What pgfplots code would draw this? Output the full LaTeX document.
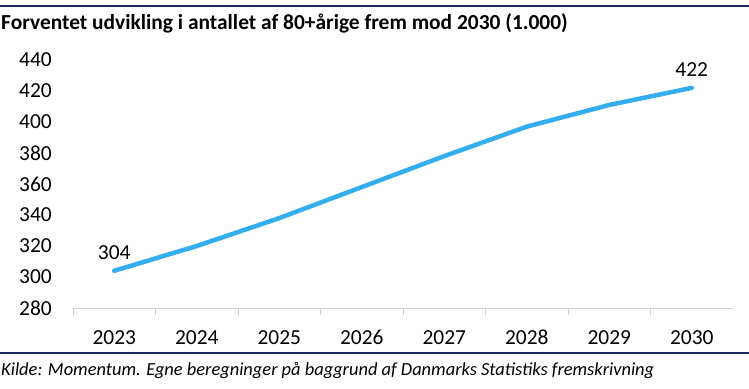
\documentclass[border=0pt]{standalone}
\usepackage{fontspec}
\setmainfont{Carlito}
\usepackage{pgfplots}
\pgfplotsset{compat=1.18}
\definecolor{navy}{HTML}{1F2A5C}
\definecolor{lblue}{HTML}{35AEEF}
\definecolor{axgray}{HTML}{D0D0D0}
\begin{document}
\begin{tikzpicture}[x=1bp,y=1bp]
\useasboundingbox (0,0) rectangle (749,388);
\fill[white] (0,0) rectangle (749,388);
\draw[navy, line width=2bp] (0,382) -- (749,382);
\draw[navy, line width=2bp] (0,35) -- (749,35);
\node[anchor=base west, inner sep=0pt, font=\fontsize{21.5}{24}\selectfont\bfseries] at (1,359) {Forventet udvikling i antallet af 80+årige frem mod 2030 (1.000)};
\node[anchor=base west, inner sep=0pt, font=\fontsize{18.5}{21}\selectfont\itshape] at (1,13) {Kilde: Momentum. Egne beregninger på baggrund af Danmarks Statistiks fremskrivning};
\begin{axis}[
  at={(73bp,80bp)}, anchor=south west,
  scale only axis, width=660bp, height=248bp,
  xmin=-0.5, xmax=7.5, ymin=280, ymax=440,
  axis x line*=bottom, axis y line*=left,
  x axis line style={axgray, line width=1bp, -},
  y axis line style={draw=none},
  xtick={0,...,7},
  xticklabels={2023,2024,2025,2026,2027,2028,2029,2030},
  minor xtick={-0.5,0.5,...,6.5},
  major x tick style={draw=none},
  minor x tick style={axgray, line width=1bp},
  minor tick length=7bp,
  tick align=outside,
  ytick={280,300,...,440},
  ytick style={draw=none},
  major tick length=0pt,
  /pgf/number format/assume math mode=true,
  ticklabel style={font=\fontsize{21.5}{24}\selectfont},
  yticklabel style={anchor=east, inner sep=0pt, xshift=-21bp},
  xticklabel style={anchor=base, inner sep=0pt, yshift=-36bp},
  clip=false,
]
\addplot[lblue, line width=4.5bp, line cap=round, line join=round]
  coordinates {(0,304) (1,320) (2,338) (3,358) (4,378) (5,397) (6,411) (7,422)};
\addplot[draw=none, mark=none, nodes near coords, point meta=explicit symbolic,
  nodes near coords style={anchor=base, inner sep=0pt, yshift=11.5bp, font=\fontsize{21.5}{24}\selectfont}]
  coordinates {(0,304) [304] (7,422) [422]};
\end{axis}
\end{tikzpicture}
\end{document}
